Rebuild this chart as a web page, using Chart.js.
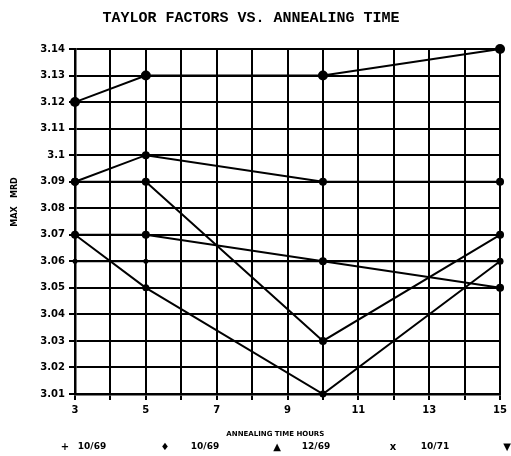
<!DOCTYPE html>
<html>
<head>
<meta charset="utf-8">
<script src="https://cdn.jsdelivr.net/npm/chart.js@4.4.1/dist/chart.umd.min.js"></script>
<style>
    html, body { margin: 0; padding: 0; background: #fff; }
    #wrap { width: 511px; height: 456px; }
</style>
</head>
<body>
<div id="wrap"><canvas id="myChart" width="511" height="456"></canvas></div>
<script>
// annealing time (hours) and taylor factors
const hours = [3, 5, 10, 15];
const seriesLabels = ['10/69', '10/69', '12/69', '10/71', '', ''];
const legendMarks = ['+', '\u2666', '\u25B2', 'x', '\u25BC', ''];
const s1 = [3.12, 3.13, 3.13, 3.14];
const s2 = [3.09, 3.10, 3.09, 3.09];
const s3 = [3.09, 3.09, 3.03, 3.07];
const s4 = [3.07, 3.05, 3.01, 3.06];
const s5 = [3.07, 3.07, 3.06, 3.05];
const s6 = [3.06, 3.06, 3.06, 3.06];
const xTickLabels = [3, 5, 7, 9, 11, 13, 15];
const yTickLabels = ['3.01', '3.02', '3.03', '3.04', '3.05', '3.06', '3.07',
    '3.08', '3.09', '3.1', '3.11', '3.12', '3.13', '3.14'];

const allSeries = [s1, s2, s3, s4, s5, s6];
const radius = [5, 4, 4, 3.5, 4, 2.5];

const datasets = allSeries.map((vals, i) => ({
    label: seriesLabels[i],
    data: vals.map((v, j) => ({ x: hours[j], y: v })),
    borderColor: '#000',
    backgroundColor: '#000',
    borderWidth: 2,
    pointRadius: radius[i],
    pointBorderWidth: 0,
    tension: 0,
    fill: false,
    clip: false
}));

// scanned legend row under the axis title
const legendRow = {
    id: 'legendRow',
    afterDraw(chart) {
        const ctx = chart.ctx;
        const markX = [65, 165, 277, 393, 507];
        const textX = [92, 205, 316, 435];
        ctx.save();
        ctx.fillStyle = '#000';
        ctx.textBaseline = 'middle';
        ctx.textAlign = 'center';
        markX.forEach((x, i) => {
            ctx.font = 'bold 10px "DejaVu Sans"';
            ctx.fillText(legendMarks[i], x, 447);
            if (textX[i] !== undefined) {
                ctx.font = 'bold 9px "DejaVu Sans"';
                ctx.fillText(chart.data.datasets[i].label, textX[i], 447);
            }
        });
        ctx.restore();
    }
};

new Chart(document.getElementById('myChart'), {
    type: 'line',
    data: { datasets: datasets },
    plugins: [legendRow],
    options: {
        responsive: false,
        animation: false,
        layout: { padding: { top: 0, right: 9, bottom: 18, left: 0 } },
        plugins: {
            legend: { display: false },
            tooltip: { enabled: false },
            title: {
                display: true,
                text: 'TAYLOR FACTORS VS. ANNEALING TIME',
                color: '#000',
                font: { family: '"Liberation Mono"', size: 15, weight: 'bold', lineHeight: 1.2 },
                padding: { top: 9, bottom: 22 }
            }
        },
        scales: {
            x: {
                type: 'linear',
                min: 3,
                max: 15,
                afterFit: s => { s.height = 44; },
                ticks: {
                    stepSize: 1,
                    autoSkip: false,
                    maxRotation: 0,
                    color: '#000',
                    padding: 4,
                    font: { family: '"DejaVu Sans"', size: 10, weight: 'bold' },
                    callback: v => xTickLabels.includes(v) ? String(v) : ''
                },
                grid: { color: '#000', lineWidth: 2, tickLength: 6, drawTicks: true },
                border: { color: '#000', width: 2.5 },
                title: {
                    display: true,
                    text: 'ANNEALING TIME HOURS          ',
                    color: '#000',
                    font: { family: '"DejaVu Sans"', size: 7, weight: 'bold' },
                    padding: { top: 6, bottom: 0 }
                }
            },
            y: {
                type: 'linear',
                min: 3.01,
                max: 3.14,
                afterFit: s => { s.width = 75; },
                ticks: {
                    stepSize: 0.01,
                    autoSkip: false,
                    color: '#000',
                    padding: 4,
                    font: { family: '"DejaVu Sans"', size: 10, weight: 'bold' },
                    callback: (v, i) => yTickLabels[i]
                },
                grid: { color: '#000', lineWidth: 2, tickLength: 6 },
                border: { color: '#000', width: 2.5 },
                title: {
                    display: true,
                    text: '              MAX   MRD',
                    color: '#000',
                    font: { family: '"DejaVu Sans"', size: 8, weight: 'bold' },
                    padding: { top: 10, bottom: 0 }
                }
            }
        }
    }
});
</script>
</body>
</html>
